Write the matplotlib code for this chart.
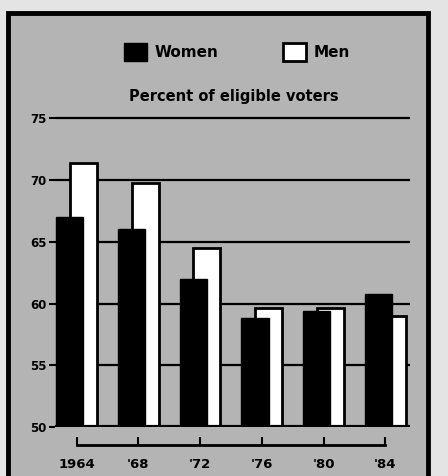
import matplotlib.pyplot as plt
from matplotlib.patches import Rectangle
import numpy as np

# turnout, percent of eligible voters
years = ["1964", "'68", "'72", "'76", "'80", "'84"]
women = [67.0, 66.0, 62.0, 58.8, 59.4, 60.8]
men = [71.4, 69.8, 64.5, 59.6, 59.6, 59.0]
y_ticks = [50, 55, 60, 65, 70, 75]

W, H = 448, 476
grey = "#b4b4b4"

plt.rcParams["font.family"] = ["DejaVu Sans"]
plt.rcParams["font.weight"] = "bold"

fig = plt.figure(figsize=(W / 100, H / 100), dpi=100)
fig.patch.set_facecolor("#e4e4e4")

# framed grey panel, kept behind the axes
frame = Rectangle((8 / W, -0.02), (428 - 8) / W, (H - 13) / H + 0.02,
                  transform=fig.transFigure, facecolor=grey, edgecolor="black",
                  linewidth=3.5, zorder=-10)
fig.patches.append(frame)

ax = fig.add_axes([55 / W, 1 - 427 / H, (410 - 55) / W, (427 - 106) / H])
ax.patch.set_alpha(0)

x = np.arange(len(years))
w = 0.44
off = 0.11
ax.bar(x + off, [m - 50 for m in men], w, bottom=50, color="white",
       edgecolor="black", linewidth=2, zorder=3, label="Men")
ax.bar(x - off, [v - 50 for v in women], w, bottom=50, color="black",
       edgecolor="black", linewidth=1, zorder=4, label="Women")

for t in y_ticks[1:]:
    ax.axhline(t, color="black", linewidth=1.6, zorder=1)
ax.axhline(50, color="black", linewidth=3, zorder=5)

ax.set_ylim(50, 76)
ax.set_xlim(-0.35, 5.4)
ax.set_yticks(y_ticks)
ax.set_yticklabels([str(t) for t in y_ticks], fontsize=8.5, fontweight="bold")
ax.tick_params(axis="y", direction="out", length=4, width=1.5, pad=2)

for s in ["left", "right", "top"]:
    ax.spines[s].set_visible(False)
ax.spines["bottom"].set_position(("outward", 13))
ax.spines["bottom"].set_bounds(0, 5)
ax.spines["bottom"].set_linewidth(2)
ax.set_xticks(x)
ax.set_xticklabels(years, fontsize=9.5, fontweight="bold")
ax.tick_params(axis="x", direction="in", length=6, width=1.5, pad=9)

handles, labels = ax.get_legend_handles_labels()
fig.legend(handles[::-1], labels[::-1], loc="center", ncol=2,
           bbox_to_anchor=(237 / W, 1 - 52 / H), frameon=False,
           handlelength=1.5, handleheight=1.5, columnspacing=4.2,
           handletextpad=0.5, prop={"size": 11, "weight": "bold"})

fig.text(234 / W, 1 - 97 / H, "Percent of eligible voters", ha="center",
         va="center", fontsize=10.5, fontweight="bold")

fig.savefig("out.png", dpi=100)
